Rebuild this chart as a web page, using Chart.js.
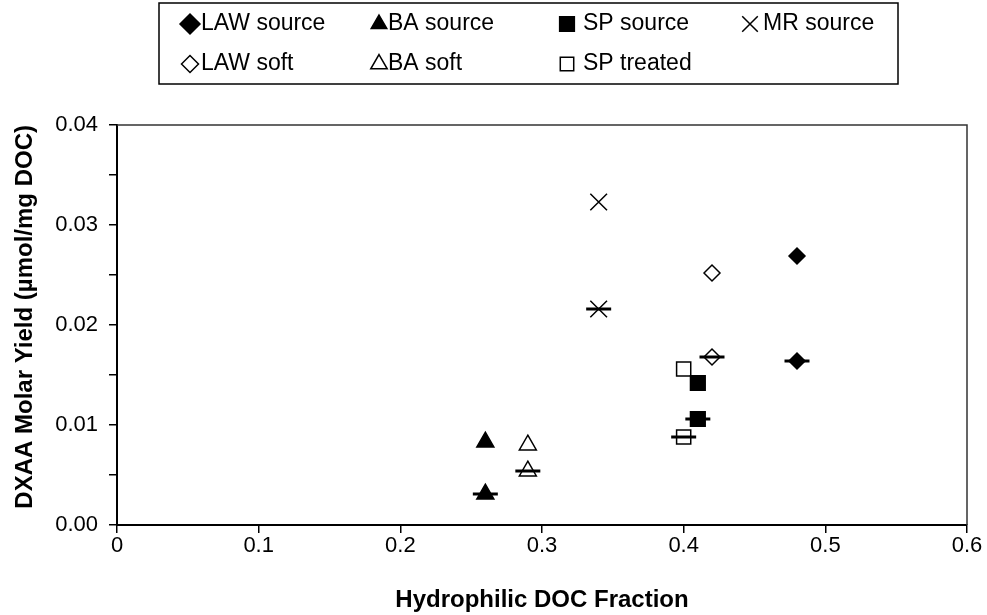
<!DOCTYPE html>
<html>
<head>
<meta charset="utf-8">
<script src="https://cdn.jsdelivr.net/npm/chart.js@4/dist/chart.umd.min.js"></script>
<style>
  html, body { margin: 0; padding: 0; background: #fff; }
  #wrap { position: relative; width: 987px; height: 615px; }
</style>
</head>
<body>
<div id="wrap"><canvas id="chart" width="987" height="615"></canvas></div>
<script>
// samples, one x per sample and two yields (upper point, lower point marked with a dash)
const sampleNames = ['LAW source', 'BA source', 'SP source', 'MR source', 'LAW soft', 'BA soft', 'SP treated'];
const hydrophilicFraction = [0.48, 0.26, 0.41, 0.34, 0.42, 0.29, 0.40];
const yieldUpper = [0.0269, 0.0083, 0.0142, 0.0323, 0.0252, 0.0080, 0.0156];
const yieldLower = [0.0164, 0.0031, 0.0106, 0.0216, 0.0168, 0.0054, 0.0088];

const FONT = "'Liberation Sans', Arial, sans-serif";

// marker look per sample (same order as sampleNames)
const markers = [
    { pointStyle: 'rectRot', radius: 8, legendRadius: 10, fill: '#000' },
    { pointStyle: 'triangle', radius: 9.8, legendRadius: 9, fill: '#000' },
    { pointStyle: 'rect', radius: 10.4, legendRadius: 10.4, fill: '#000' },
    { pointStyle: 'crossRot', radius: 11.8, legendRadius: 11, fill: '#000' },
    { pointStyle: 'rectRot', radius: 8, legendRadius: 8.5, fill: '#fff' },
    { pointStyle: 'triangle', radius: 9.8, legendRadius: 9.5, fill: '#fff' },
    { pointStyle: 'rect', radius: 10, legendRadius: 9.5, fill: '#fff' }
];

const datasets = sampleNames.map((name, i) => ({
    label: name,
    data: [
        { x: hydrophilicFraction[i], y: yieldUpper[i] },
        { x: hydrophilicFraction[i], y: yieldLower[i] }
    ],
    pointStyle: markers[i].pointStyle,
    pointRadius: markers[i].radius,
    pointBackgroundColor: markers[i].fill,
    pointBorderColor: '#000',
    pointBorderWidth: 1.5,
    order: 1
}));

// dash drawn over the lower point of each sample
datasets.push({
    label: 'dash',
    data: hydrophilicFraction.map((x, i) => ({ x: x, y: yieldLower[i] })),
    pointStyle: 'line',
    pointRadius: 12.5,
    pointBorderColor: '#000',
    pointBorderWidth: 3,
    order: 0
});

// boxed legend laid out in columns like the original
const boxLegend = {
    id: 'boxLegend',
    afterDraw(chart, args, opts) {
        const ctx = chart.ctx;
        const b = opts.box;
        ctx.save();
        ctx.strokeStyle = '#000';
        ctx.lineWidth = 1.5;
        ctx.strokeRect(b.left, b.top, b.right - b.left, b.bottom - b.top);
        ctx.font = opts.font;
        ctx.textBaseline = 'middle';
        ctx.textAlign = 'left';
        sampleNames.forEach((name, i) => {
            const row = i < 4 ? 0 : 1;
            const col = i < 4 ? i : i - 4;
            const y = opts.rows[row];
            const m = markers[i];
            ctx.fillStyle = m.fill;
            ctx.strokeStyle = '#000';
            ctx.lineWidth = 1.5;
            Chart.helpers.drawPoint(ctx, {
                pointStyle: m.pointStyle,
                radius: m.legendRadius,
                borderWidth: 1.5,
                rotation: 0
            }, opts.markerX[col], y);
            ctx.fillStyle = '#000';
            ctx.fillText(name, opts.textX[col], y);
        });
        ctx.restore();
    }
};

// top and right edges of the plot frame
const plotFrame = {
    id: 'plotFrame',
    afterDraw(chart) {
        const { ctx, chartArea: a } = chart;
        ctx.save();
        ctx.strokeStyle = '#333';
        ctx.lineWidth = 1.5;
        ctx.beginPath();
        ctx.moveTo(a.left, a.top);
        ctx.lineTo(a.right, a.top);
        ctx.lineTo(a.right, a.bottom);
        ctx.stroke();
        ctx.restore();
    }
};

new Chart(document.getElementById('chart'), {
    type: 'scatter',
    data: { datasets: datasets },
    plugins: [plotFrame, boxLegend],
    options: {
        responsive: false,
        animation: false,
        events: [],
        layout: { padding: { top: 125, right: 20, left: 0, bottom: 0 } },
        plugins: {
            legend: { display: false },
            tooltip: { enabled: false },
            boxLegend: {
                box: { left: 159, top: 3, right: 898, bottom: 84 },
                rows: [24, 64],
                markerX: [190, 379, 567, 750],
                textX: [201, 388, 583, 763],
                font: '23px ' + FONT
            }
        },
        scales: {
            x: {
                type: 'linear',
                min: 0,
                max: 0.6,
                afterFit: s => { s.height = 90; },
                ticks: {
                    stepSize: 0.1,
                    padding: 0,
                    color: '#000',
                    font: { family: FONT, size: 22 },
                    callback: v => String(Number(v.toFixed(1)))
                },
                grid: { drawOnChartArea: false, tickLength: 8, color: '#000', lineWidth: 1.5 },
                border: { color: '#000', width: 2 },
                title: {
                    display: true,
                    text: 'Hydrophilic DOC Fraction',
                    color: '#000',
                    font: { family: FONT, size: 24, weight: 'bold' },
                    padding: { top: 0, bottom: 0 }
                }
            },
            y: {
                type: 'linear',
                min: 0,
                max: 0.04,
                afterFit: s => { s.width = 117; },
                ticks: {
                    stepSize: 0.005,
                    padding: 11,
                    color: '#000',
                    font: { family: FONT, size: 22 },
                    callback: v => (Math.round(v * 1000) % 10 === 0 ? v.toFixed(2) : '')
                },
                grid: { drawOnChartArea: false, tickLength: 8, color: '#000', lineWidth: 1.5 },
                border: { color: '#000', width: 2 },
                title: {
                    display: true,
                    text: 'DXAA Molar Yield (µmol/mg DOC)',
                    align: 'end',
                    color: '#000',
                    font: { family: FONT, size: 24, weight: 'bold' },
                    padding: { top: 11, bottom: 0 }
                }
            }
        }
    }
});
</script>
</body>
</html>
